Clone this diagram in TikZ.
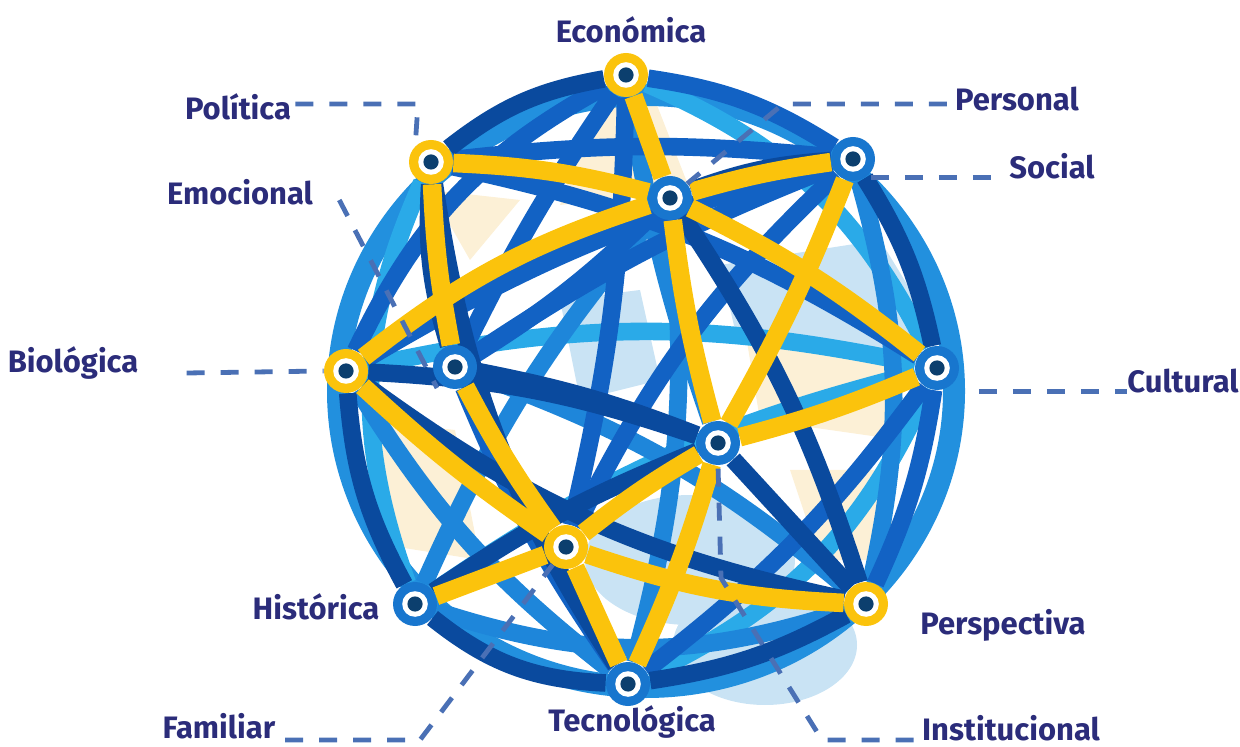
\documentclass[tikz,border=0pt]{standalone}
\usepackage{fontspec}
\setmainfont{Fira Sans}
\definecolor{yel}{HTML}{FBC30C}
\definecolor{blD}{HTML}{0A4A9E}
\definecolor{blM}{HTML}{1262C4}
\definecolor{blL}{HTML}{1E86DA}
\definecolor{cyn}{HTML}{2AAAE8}
\definecolor{ringc}{HTML}{2290DE}
\definecolor{nodeb}{HTML}{1876CE}
\definecolor{ctr}{HTML}{0C3F6E}
\definecolor{paleb}{HTML}{C9E3F4}
\definecolor{cream}{HTML}{FCF0D6}
\definecolor{txt}{HTML}{2B2C7A}
\definecolor{dsh}{HTML}{4A70B5}
\pgfdeclarelayer{patch}
\pgfdeclarelayer{blue}
\pgfdeclarelayer{yellow}
\pgfsetlayers{patch,blue,yellow,main}
\begin{document}
\begin{tikzpicture}[x=0.5pt,y=-0.5pt,
  nd/.style={circle, inner sep=0pt, minimum size=22pt,
    path picture={\fill[white] (path picture bounding box.center) circle (6.4pt);
                  \fill[ctr] (path picture bounding box.center) circle (3.8pt);}},
  bn/.style={nd, fill=nodeb},
  yn/.style={nd, fill=yel},
  band/.style={line width=8.8pt},
  yb/.style={line width=9.3pt, draw=yel},
  db/.style={band, draw=blD},
  mb/.style={band, draw=blM},
  lb/.style={band, draw=blL},
  cb/.style={band, draw=cyn},
  lbl/.style={text=txt, font=\bfseries\fontsize{15.5}{18}\selectfont, inner sep=0pt},
  lead/.style={draw=dsh, line width=2.4pt, dash pattern=on 9pt off 8pt}
]
\useasboundingbox (0,0) rectangle (1240,747);

% nodes
\node[yn] (E)  at (626,75)  {};
\node[yn] (P)  at (431,162) {};
\node[bn] (Pe) at (670,198) {};
\node[bn] (S)  at (853,159) {};
\node[yn] (B)  at (346,371) {};
\node[bn] (Em) at (455,367) {};
\node[bn] (C)  at (937,368) {};
\node[bn] (I)  at (718,443) {};
\node[yn] (F)  at (566,547) {};
\node[bn] (H)  at (415,604) {};
\node[bn] (T)  at (628,684) {};
\node[yn] (Ps) at (866,604) {};

% background patches
\begin{pgfonlayer}{patch}
\fill[paleb] (765,645) ellipse [x radius=92, y radius=60];
\fill[cream] (596,100) -- (655,100) -- (690,190) -- (560,205) -- cycle;
\fill[paleb] (720,265) -- (880,240) -- (935,330) -- (820,370) -- (735,330) -- cycle;
\fill[cream] (745,330) -- (890,360) -- (900,440) -- (760,420) -- cycle;
\fill[paleb] (690,560) ellipse [x radius=105, y radius=65];
\fill[cream] (365,420) -- (455,430) -- (480,560) -- (385,545) -- cycle;
\fill[paleb] (560,300) -- (640,290) -- (660,380) -- (580,400) -- cycle;
\fill[cream] (430,190) -- (520,200) -- (470,260) -- cycle;
\fill[cream] (790,470) -- (880,470) -- (900,560) -- (820,560) -- cycle;
\draw[ringc, line width=11pt] (646,391) ellipse [x radius=308, y radius=296];
\end{pgfonlayer}

% blue bands
\begin{pgfonlayer}{blue}
\draw[cb] (P) to[bend right=22] (H);
\draw[cb] (E) to[bend left=20] (C);
\draw[cb] (C) to[bend left=20] (T);
\draw[cb] (B) to[bend left=12] (C);
\draw[cb] (H) to[bend left=10] (C);
\draw[lb] (H) to[bend right=18] (Ps);
\draw[lb] (S) to[bend left=14] (Ps);
\draw[lb] (E) to[bend right=5] (I);
\draw[lb] (Em) to[bend left=10] (Ps);
\draw[lb] (Pe) to[bend right=8] (H);
\draw[lb] (B) to[bend right=10] (T);
\draw[lb] (Pe) to[bend left=10] (T);
\draw[mb] (E) to[bend right=18] (B);
\draw[mb] (E) to[bend right=4] (Em);
\draw[mb] (E) to[bend left=12] (S);
\draw[mb] (P) to[bend left=6] (S);
\draw[mb] (P) to[bend left=10] (C);
\draw[mb] (B) to[bend left=8] (S);
\draw[mb] (Em) to[bend left=6] (S);
\draw[mb] (Em) to[bend right=6] (T);
\draw[mb] (T) to[bend right=8] (C);
\draw[mb] (C) to[bend left=8] (Ps);
\draw[mb] (Pe) to[bend left=6] (Em);
\draw[mb] (S) to[bend right=10] (F);
\draw[mb] (E) to[bend left=6] (F);
\draw[db] (E) to[bend right=14] (P);
\draw[db] (P) to[bend right=10] (Em);
\draw[db] (P) to[bend right=12] (T);
\draw[db] (B) to[bend left=8] (I);
\draw[db] (B) to[bend right=12] (Ps);
\draw[db] (B) to[bend right=12] (H);
\draw[db] (Em) to[bend left=5] (I);
\draw[db] (H) to[bend right=18] (T);
\draw[db] (H) to[bend left=6] (I);
\draw[db] (I) to (Ps);
\draw[db] (S) to[bend left=10] (C);
\draw[db] (Pe) to[bend left=8] (Ps);
\draw[db] (Pe) to[bend left=8] (S);
\draw[db] (T) to[bend right=10] (Ps);
\end{pgfonlayer}

% yellow bands
\begin{pgfonlayer}{yellow}
\draw[yb] (E) -- (Pe);
\draw[yb] (P) to[bend left=6] (Pe);
\draw[yb] (Pe) to[bend left=4] (S);
\draw[yb] (Pe) to[bend right=4] (I);
\draw[yb] (Pe) to[bend left=6] (C);
\draw[yb] (S) to[bend left=4] (I);
\draw[yb] (B) to[bend left=10] (Pe);
\draw[yb] (B) to[bend right=4] (F);
\draw[yb] (P) to[bend right=4] (Em);
\draw[yb] (Em) to[bend right=4] (F);
\draw[yb] (F) -- (T);
\draw[yb] (F) -- (H);
\draw[yb] (F) to[bend left=4] (I);
\draw[yb] (F) to[bend right=8] (Ps);
\draw[yb] (I) to[bend left=4] (T);
\draw[yb] (I) to[bend right=4] (C);
\end{pgfonlayer}

% labels
\node[lbl] (lE)  at (631,30)  {Económica};
\node[lbl] (lP)  at (238,107) {Política};
\node[lbl] (lPe) at (1017,99) {Personal};
\node[lbl] (lS)  at (1052,166) {Social};
\node[lbl] (lEm) at (240,192) {Emocional};
\node[lbl] (lB)  at (73,363)  {Biológica};
\node[lbl] (lC)  at (1183,381) {Cultural};
\node[lbl] (lH)  at (316,607) {Histórica};
\node[lbl] (lPs) at (1003,625) {Perspectiva};
\node[lbl] (lI)  at (1011,728) {Institucional};
\node[lbl] (lT)  at (632,722) {Tecnológica};
\node[lbl] (lF)  at (219,726) {Familiar};

% leader lines
\coordinate (cP) at (418,104);
\coordinate (cPe) at (783,104);
\coordinate (cI1) at (822,740);
\coordinate (cI2) at (721,578);
\coordinate (cF) at (420,740);
\coordinate (cF0) at (285,740);
\coordinate (cEm) at (437,388);
\draw[lead] (lP.east) ++(4,-3) -- (cP) -- (P.north west);
\draw[lead] (lPe.west) ++(-8,5) -- (cPe) -- (Pe);
\draw[lead] (S.south east) ++(2,3) -- ++(122,0);
\draw[lead] (lEm.east) ++(26,8) -- (cEm);
\draw[lead] (lB.east) ++(48,10) -- (B.west);
\draw[lead] (C.south east) ++(26,8) -- ++(148,0);
\draw[lead] (lI.west) ++(-8,12) -- (cI1) -- (cI2) -- (I.south);
\draw[lead] (cF0) -- (cF) -- (F);
\end{tikzpicture}
\end{document}
